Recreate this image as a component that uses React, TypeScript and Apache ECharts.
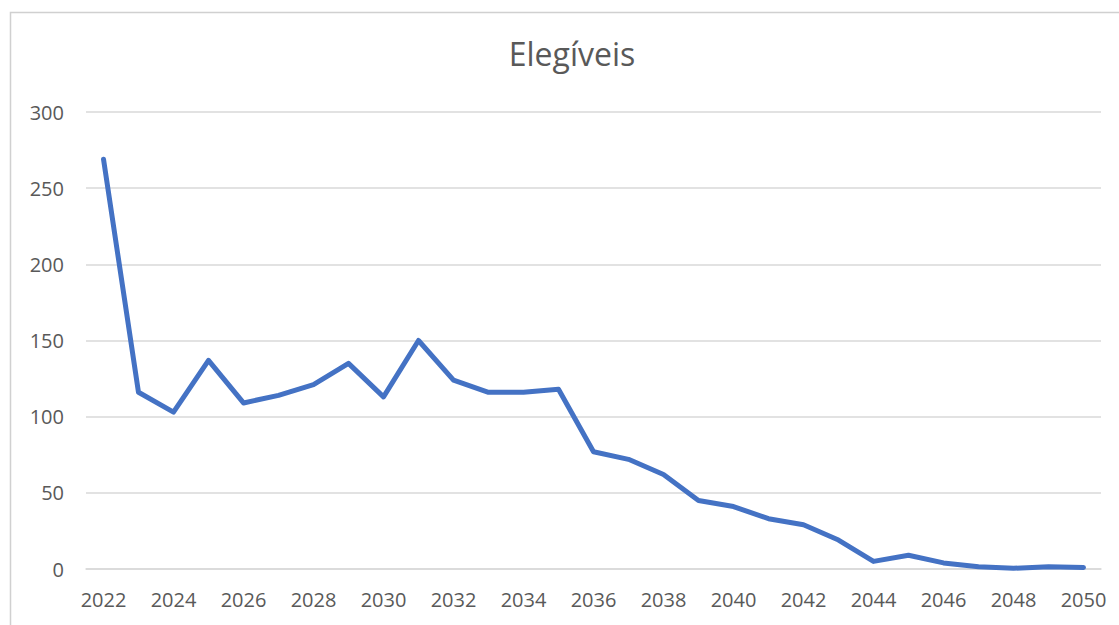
import React, { useEffect, useRef } from "react";
import * as echarts from "echarts";

const titleText = "Elegíveis";
const years = [
  "2022", "2023", "2024", "2025", "2026", "2027", "2028", "2029", "2030", "2031",
  "2032", "2033", "2034", "2035", "2036", "2037", "2038", "2039", "2040", "2041",
  "2042", "2043", "2044", "2045", "2046", "2047", "2048", "2049", "2050",
];
const elegiveis = [
  269, 116, 103, 137, 109, 114, 121, 135, 113, 150,
  124, 116, 116, 118, 77, 72, 62, 45, 41, 33,
  29, 19, 5, 9, 4, 1.5, 0.5, 1.5, 1,
];
const yTicks = [0, 50, 100, 150, 200, 250, 300];

export default function App() {
  const ref = useRef<HTMLDivElement>(null);
  useEffect(() => {
    if (!ref.current) return;
    const chart = echarts.init(ref.current, null, { renderer: "svg" });
    const font = "'Open Sans', 'Liberation Sans', sans-serif";
    chart.setOption({
      animation: false,
      backgroundColor: "#ffffff",
      textStyle: { fontFamily: font },
      title: {
        text: titleText,
        left: 572,
        textAlign: "center",
        top: 37,
        padding: 0,
        textStyle: { fontFamily: font, fontSize: 32, fontWeight: "normal", color: "#595959" },
      },
      graphic: [
        {
          type: "rect",
          shape: { x: 10.5, y: 12.5, width: 1200, height: 700 },
          style: { fill: "none", stroke: "#d0d0d0", lineWidth: 1.5 },
          silent: true,
          z: 100,
        },
      ],
      grid: { left: 86, right: 18, top: 112, bottom: 56, containLabel: false },
      xAxis: {
        type: "category",
        data: years,
        boundaryGap: true,
        axisLine: { show: true, lineStyle: { color: "#d9d9d9", width: 1.5 } },
        axisTick: { show: false },
        axisLabel: {
          interval: 1,
          margin: 20,
          fontSize: 20,
          color: "#595959",
          fontFamily: font,
        },
        splitLine: { show: false },
      },
      yAxis: {
        type: "value",
        min: yTicks[0],
        max: yTicks[yTicks.length - 1],
        interval: 50,
        axisLine: { show: false },
        axisTick: { show: false },
        axisLabel: { margin: 22, fontSize: 20, color: "#595959", fontFamily: font },
        splitLine: { show: true, lineStyle: { color: "#d9d9d9", width: 1.5 } },
      },
      series: [
        {
          type: "line",
          data: elegiveis,
          symbol: "none",
          lineStyle: { color: "#4472C4", width: 5, join: "round", cap: "round" },
          itemStyle: { color: "#4472C4" },
        },
      ],
    });
    return () => chart.dispose();
  }, []);
  return (
    <div
      ref={ref}
      style={{ position: "fixed", left: 0, top: 0, width: 1119, height: 625 }}
    />
  );
}
